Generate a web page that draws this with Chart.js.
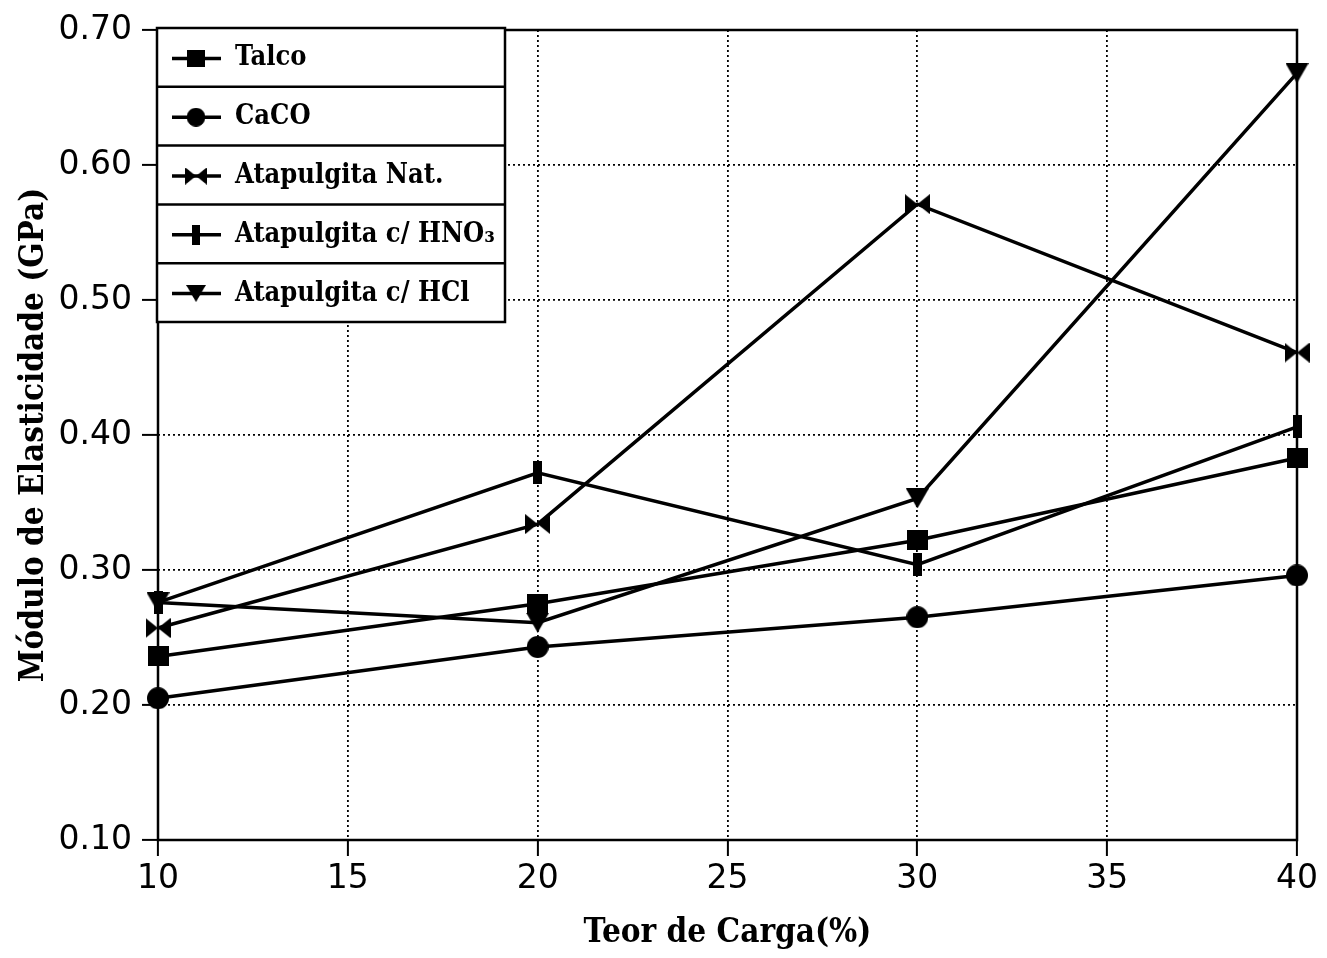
<!DOCTYPE html>
<html>
<head>
<meta charset="utf-8">
<title>Módulo de Elasticidade x Teor de Carga</title>
<script src="https://cdn.jsdelivr.net/npm/chart.js@4/dist/chart.umd.min.js"></script>
<style>
  html, body { margin: 0; padding: 0; background: #fff; }
  #wrap { width: 1327px; height: 958px; position: relative; }
</style>
</head>
<body>
<div id="wrap"><canvas id="c" width="1327" height="958"></canvas></div>
<script>
// Teor de carga (%) e módulo de elasticidade (GPa) para cada carga
const teorCarga = [10, 20, 30, 40];
const talco     = [0.236, 0.275, 0.322, 0.383];
const caco      = [0.205, 0.243, 0.265, 0.296];
const atapNat   = [0.257, 0.334, 0.571, 0.461];
const atapHNO3  = [0.276, 0.372, 0.304, 0.406];
const atapHCl   = [0.276, 0.261, 0.353, 0.668];

const seriesLabels = ['Talco', 'CaCO', 'Atapulgita Nat.', 'Atapulgita c/ HNO₃', 'Atapulgita c/ HCl'];
const yTicks = [0.10, 0.20, 0.30, 0.40, 0.50, 0.60, 0.70];
const xTicks = [10, 15, 20, 25, 30, 35, 40];

// Marker glyphs drawn on small canvases
function marker(kind) {
  const cv = document.createElement('canvas');
  const g = cv.getContext('2d');
  g.fillStyle = '#000';
  if (kind === 'square') {
    cv.width = 21; cv.height = 20;
    g.fillRect(0, 0, 21, 20);
  } else if (kind === 'circle') {
    cv.width = 22; cv.height = 22;
    g.beginPath(); g.arc(11, 11, 11, 0, Math.PI * 2); g.fill();
  } else if (kind === 'bowtie') {
    cv.width = 25; cv.height = 20;
    g.beginPath(); g.moveTo(0, 0); g.lineTo(12.5, 10); g.lineTo(0, 20); g.closePath(); g.fill();
    g.beginPath(); g.moveTo(25, 0); g.lineTo(12.5, 10); g.lineTo(25, 20); g.closePath(); g.fill();
  } else if (kind === 'bar') {
    cv.width = 9; cv.height = 23;
    g.fillRect(0, 0, 9, 23);
  } else if (kind === 'tridown') {
    cv.width = 23; cv.height = 20;
    g.beginPath(); g.moveTo(0, 0); g.lineTo(23, 0); g.lineTo(11.5, 20); g.closePath(); g.fill();
  }
  return cv;
}

const seriesValues = [talco, caco, atapNat, atapHNO3, atapHCl];
const seriesMarkers = ['square', 'circle', 'bowtie', 'bar', 'tridown'].map(marker);

const datasets = seriesValues.map((vals, i) => ({
  label: seriesLabels[i],
  data: teorCarga.map((x, j) => ({ x: x, y: vals[j] })),
  borderColor: '#000',
  backgroundColor: '#000',
  borderWidth: 3.5,
  pointStyle: seriesMarkers[i],
  pointRadius: 10,
  pointHoverRadius: 10,
  tension: 0,
  clip: false
}));

const serifBold = { family: '"DejaVu Serif Condensed", "DejaVu Serif", serif', weight: 'bold', size: 33 };
const tickFont = { family: '"DejaVu Sans", sans-serif', size: 33 };

// Plot frame drawn over the grid
const framePlugin = {
  id: 'frame',
  beforeDatasetsDraw(chart) {
    const { ctx, chartArea: a } = chart;
    ctx.save();
    ctx.strokeStyle = '#000';
    ctx.lineWidth = 2.5;
    ctx.strokeRect(a.left, a.top, a.right - a.left, a.bottom - a.top);
    ctx.restore();
  }
};

// Boxed legend in the upper-left corner, one row per series
const boxLegend = {
  id: 'boxLegend',
  afterDatasetsDraw(chart) {
    const { ctx, chartArea: a } = chart;
    const x0 = a.left - 1, y0 = a.top - 2, w = 348, rowH = 58.8;
    const n = chart.data.datasets.length;
    ctx.save();
    ctx.fillStyle = '#fff';
    ctx.fillRect(x0, y0, w, rowH * n);
    ctx.strokeStyle = '#000';
    ctx.lineWidth = 2.5;
    ctx.strokeRect(x0, y0, w, rowH * n);
    for (let i = 1; i < n; i++) {
      ctx.beginPath();
      ctx.moveTo(x0, y0 + rowH * i);
      ctx.lineTo(x0 + w, y0 + rowH * i);
      ctx.stroke();
    }
    ctx.font = 'bold 27px "DejaVu Serif Condensed", "DejaVu Serif", serif';
    ctx.textBaseline = 'middle';
    ctx.textAlign = 'left';
    chart.data.datasets.forEach((ds, i) => {
      const cy = y0 + rowH * i + rowH / 2 + 1;
      ctx.lineWidth = 3.5;
      ctx.beginPath();
      ctx.moveTo(x0 + 15, cy);
      ctx.lineTo(x0 + 64, cy);
      ctx.stroke();
      const m = ds.pointStyle;
      const s = 0.85;
      ctx.drawImage(m, x0 + 39 - m.width * s / 2, cy - m.height * s / 2, m.width * s, m.height * s);
      ctx.fillStyle = '#000';
      ctx.fillText(ds.label, x0 + 78, cy);
    });
    ctx.restore();
  }
};

new Chart(document.getElementById('c'), {
  type: 'line',
  data: { datasets: datasets },
  options: {
    responsive: false,
    animation: false,
    devicePixelRatio: 1,
    layout: { padding: { top: 30, right: 30, left: 0, bottom: 0 } },
    plugins: { legend: { display: false }, tooltip: { enabled: false } },
    scales: {
      x: {
        type: 'linear',
        min: 10, max: 40,
        afterBuildTicks(scale) { scale.ticks = xTicks.map(v => ({ value: v })); },
        afterFit(scale) { scale.height = 118; },
        grid: { color: '#000', lineWidth: 1.8, drawTicks: true, tickLength: 16, tickColor: '#000', tickWidth: 2, tickBorderDash: [] },
        border: { display: false, dash: [2, 3] },
        ticks: { color: '#000', font: tickFont, padding: 4, maxRotation: 0, callback: v => String(v) },
        title: { display: true, text: 'Teor de Carga(%)', color: '#000', font: serifBold, padding: { top: 0, bottom: 5 } }
      },
      y: {
        type: 'linear',
        min: 0.10, max: 0.70,
        afterBuildTicks(scale) { scale.ticks = yTicks.map(v => ({ value: v })); },
        afterFit(scale) { scale.width = 158; },
        grid: { color: '#000', lineWidth: 1.8, drawTicks: true, tickLength: 16, tickColor: '#000', tickWidth: 2, tickBorderDash: [] },
        border: { display: false, dash: [2, 3] },
        ticks: { color: '#000', font: tickFont, padding: 10, callback: v => Number(v).toFixed(2) },
        title: { display: true, text: 'Módulo de Elasticidade (GPa)', color: '#000', font: serifBold, padding: { top: 15, bottom: 0 } }
      }
    }
  },
  plugins: [framePlugin, boxLegend]
});
</script>
</body>
</html>
